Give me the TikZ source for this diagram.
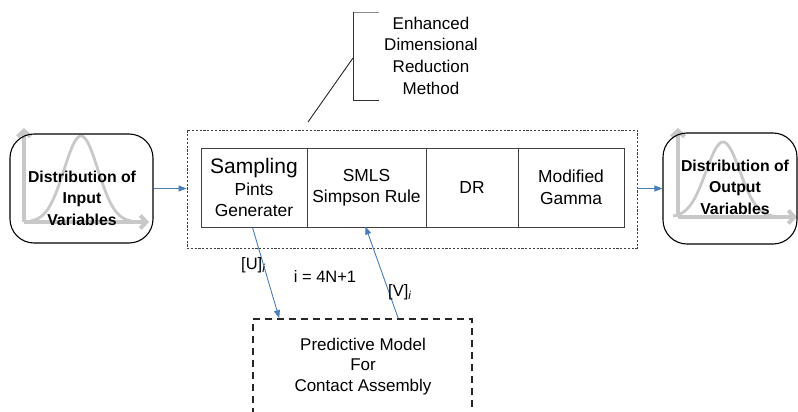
\documentclass[tikz,border=0pt]{standalone}
\usepackage{fontspec}
\setmainfont{Liberation Sans}
\usetikzlibrary{arrows.meta,calc}
\definecolor{arrowblue}{HTML}{4A7EBB}
\definecolor{axisgray}{HTML}{C8C8C8}
\definecolor{boxgray}{HTML}{404040}
\begin{document}
\begin{tikzpicture}[x=1pt,y=-1pt,
 rbox/.style={draw=black, line width=1.1pt, rounded corners=24pt, inner sep=0},
 gaxis/.style={draw=axisgray, line width=4pt, -{Straight Barb[length=6pt,width=13pt]}},
 gcurve/.style={draw=axisgray, line width=2.8pt},
 btext/.style={font=\bfseries\fontsize{15.8}{21.5}\selectfont, align=center, inner sep=0},
 cell/.style={draw=boxgray, line width=1pt, minimum height=79pt, inner sep=0, align=center, font=\fontsize{17.4}{21.5}\selectfont},
 outerbox/.style={draw=boxgray, line width=0.9pt, dash pattern=on 2.2pt off 1.6pt, inner sep=0},
 modelbox/.style={draw=black!85, line width=1.6pt, dash pattern=on 7pt off 5pt, inner sep=0},
 flow/.style={draw=arrowblue, line width=0.9pt, -{Triangle[length=8pt,width=6pt]}},
 lbl/.style={font=\fontsize{16.5}{20}\selectfont, inner sep=0},
 note/.style={font=\fontsize{17}{21.7}\selectfont, align=center, inner sep=0},
]
\useasboundingbox (0,0) rectangle (798,412);
\clip (0,0) rectangle (798,412);

% input distribution
\draw[gaxis] (24,222) -- (24,128);
\draw[gaxis] (24,222) -- (149,222);
\draw[gcurve] plot[domain=-50:50, samples=80, smooth] ({81+\x}, {222-86*exp(-0.5*(\x/17)^2)});
\node[rbox, minimum width=143pt, minimum height=109pt] (inbox) at (81.5,188.5) {};
\node[btext] (intext) at (82,198) {Distribution of\\Input\\Variables};

% output distribution
\draw[gaxis] (678,217) -- (678,128);
\draw[gaxis] (678,217) -- (797,217);
\draw[gcurve] plot[domain=-50:50, samples=80, smooth] ({723+\x}, {217-75*exp(-0.5*(\x/17)^2)});
\node[rbox, minimum width=134pt, minimum height=111pt] (outbox) at (730,188.5) {};
\node[btext] (outtext) at (735,187) {Distribution of\\Output\\Variables};

% enhanced DR method
\node[outerbox, minimum width=450pt, minimum height=118pt] (edrm) at (412,189) {};
\node[cell, minimum width=106pt] (c1) at (254,187.5) {{\fontsize{21}{21}\selectfont Sampling}\\Pints\\Generater};
\node[cell, minimum width=119pt] (c2) at (366.5,187.5) {SMLS\\Simpson Rule};
\node[cell, minimum width=92pt] (c3) at (472,187.5) {DR};
\node[cell, minimum width=106pt] (c4) at (571,187.5) {Modified\\Gamma};

% callout
\node[note] (edrmnote) at (431,55.5) {Enhanced\\Dimensional\\Reduction\\Method};
\draw[black!45, line width=0.9pt] (379,12) -- (353,12);
\draw[black!80, line width=0.9pt] (353,12) -- (353,100) -- (379,100);
\coordinate (calloutroot) at (353,58);
\coordinate (callouttip) at (308,122);
\draw[black!85, line width=0.9pt] (calloutroot) -- (callouttip);

% predictive model
\node[modelbox, minimum width=219pt, minimum height=121pt] (model) at (362.5,379.5) {};
\node[note, font=\fontsize{17}{20.8}\selectfont] (modeltext) at (363,366.5) {Predictive Model\\For\\Contact Assembly};

% connectors
\draw[flow] (inbox.east) -- (inbox.east -| edrm.west);
\draw[flow] (edrm.east |- outbox.west) -- (outbox.west);
\coordinate (uout) at ($(c1.south west)+(52,0)$);
\coordinate (uin) at ($(model.north west)+(27,0)$);
\draw[flow] (uout) -- (uin);
\coordinate (vout) at ($(model.north west)+(146,0)$);
\coordinate (vin) at ($(c2.south west)+(59,-1)$);
\draw[flow] (vout) -- (vin);

% labels
\node[lbl, anchor=west] (ulbl) at (241,265) {[U]\raisebox{-3.5pt}{\fontsize{11.5}{11.5}\selectfont\itshape i}};
\node[lbl] (ilbl) at (325,277) {i = 4N+1};
\node[lbl, anchor=west] (vlbl) at (388,292) {[V]\raisebox{-3.5pt}{\fontsize{11.5}{11.5}\selectfont\itshape i}};
\end{tikzpicture}
\end{document}
